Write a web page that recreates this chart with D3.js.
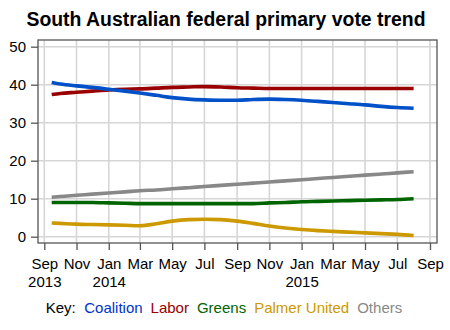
<!DOCTYPE html>
<html>
<head>
<meta charset="utf-8">
<script src="https://cdn.jsdelivr.net/npm/d3@7"></script>
<style>
  html, body { margin: 0; padding: 0; background: #fff; }
  svg { display: block; font-family: "Liberation Sans", Arial, sans-serif; }
</style>
</head>
<body>
<svg id="chart" width="450" height="330"></svg>
<script>
// Monthly poll-trend dates (first reading mid-September 2013)
const dates = [
  "2013-09-15","2013-10-01","2013-11-01","2013-12-01",
  "2014-01-01","2014-02-01","2014-03-01","2014-04-01","2014-05-01","2014-06-01",
  "2014-07-01","2014-08-01","2014-09-01","2014-10-01","2014-11-01","2014-12-01",
  "2015-01-01","2015-02-01","2015-03-01","2015-04-01","2015-05-01","2015-06-01",
  "2015-07-01","2015-08-01"
];

// Primary vote (%) by party
const coalition = [40.6,40.2,39.7,39.3,38.8,38.3,37.8,37.2,36.6,36.2,36.0,35.9,35.9,36.1,36.2,36.1,35.9,35.6,35.3,35.0,34.7,34.3,34.0,33.8];
const labor     = [37.4,37.7,38.0,38.3,38.6,38.8,38.9,39.1,39.3,39.4,39.5,39.4,39.2,39.1,39.0,39.0,39.0,39.0,39.0,39.0,39.0,39.0,39.0,39.0];
const greens    = [9.0,9.0,9.0,9.0,8.9,8.8,8.7,8.7,8.7,8.7,8.7,8.7,8.7,8.7,8.9,9.0,9.2,9.3,9.4,9.5,9.6,9.7,9.8,10.0];
const palmer    = [3.6,3.5,3.3,3.2,3.1,3.0,2.9,3.4,4.1,4.5,4.6,4.5,4.1,3.5,2.8,2.3,1.9,1.6,1.4,1.2,1.0,0.8,0.6,0.3];
const others    = [10.4,10.6,10.9,11.2,11.5,11.8,12.1,12.3,12.6,12.9,13.2,13.5,13.8,14.1,14.4,14.7,15.0,15.3,15.6,15.9,16.2,16.5,16.8,17.1];

const seriesNames  = ["Coalition","Labor","Greens","Palmer United","Others"];
const seriesColors = ["#0050c8","#990000","#006400","#cc9900","#888888"];
const seriesValues = [coalition, labor, greens, palmer, others];
// Draw order: grey underneath, major parties on top
const drawOrder = [4, 2, 3, 1, 0];

const yTicks = [0, 10, 20, 30, 40, 50];
const xTickDates = ["2013-09-01","2013-11-01","2014-01-01","2014-03-01","2014-05-01","2014-07-01",
                    "2014-09-01","2014-11-01","2015-01-01","2015-03-01","2015-05-01","2015-07-01","2015-09-01"];
const yearLabels = { "2013-09-01": "2013", "2014-01-01": "2014", "2015-01-01": "2015" };

const titleText = "South Australian federal primary vote trend";
const keyLabel = "Key:";

const parse = d3.utcParse("%Y-%m-%d");
const svg = d3.select("#chart");

const frame = { left: 38, right: 437, top: 40, bottom: 243 };

const x = d3.scaleUtc()
  .domain([parse("2013-09-01"), parse("2015-09-01")])
  .range([44.3, 430]);
const y = d3.scaleLinear().domain([0, 50]).range([236.7, 46.7]);

// Title
svg.append("text")
  .attr("x", 226).attr("y", 26)
  .attr("text-anchor", "middle")
  .attr("font-size", 19.4).attr("font-weight", "bold")
  .attr("fill", "#000")
  .text(titleText);

// Grid
const grid = svg.append("g");
grid.selectAll("line.v").data(xTickDates).join("line")
  .attr("x1", d => x(parse(d))).attr("x2", d => x(parse(d)))
  .attr("y1", frame.top).attr("y2", frame.bottom)
  .attr("stroke", "#d6d6d6").attr("stroke-width", 1.6);
grid.selectAll("line.h").data(yTicks).join("line")
  .attr("x1", frame.left).attr("x2", frame.right)
  .attr("y1", d => y(d)).attr("y2", d => y(d))
  .attr("stroke", "#d6d6d6").attr("stroke-width", 1.6);

// Series lines
const line = d3.line()
  .x((d, i) => x(parse(dates[i])))
  .y(d => y(d))
  .curve(d3.curveMonotoneX);

svg.append("g").selectAll("path").data(drawOrder).join("path")
  .attr("d", k => line(seriesValues[k]))
  .attr("fill", "none")
  .attr("stroke", k => seriesColors[k])
  .attr("stroke-width", 3.6)
  .attr("stroke-linecap", "butt");

// Frame
svg.append("rect")
  .attr("x", frame.left).attr("y", frame.top)
  .attr("width", frame.right - frame.left).attr("height", frame.bottom - frame.top)
  .attr("fill", "none").attr("stroke", "#555").attr("stroke-width", 1.3);

// Y axis
const yAxis = svg.append("g")
  .attr("transform", `translate(${frame.left},0)`)
  .call(d3.axisLeft(y).tickValues(yTicks).tickSize(7).tickPadding(5));
yAxis.select(".domain").remove();
yAxis.selectAll(".tick line").attr("stroke", "#555").attr("stroke-width", 1.3);
yAxis.selectAll(".tick text")
  .attr("font-size", 15).attr("fill", "#000")
  .attr("font-family", "Liberation Sans, Arial, sans-serif");

// X axis
const fmtMonth = d3.utcFormat("%b");
const xAxis = svg.append("g")
  .attr("transform", `translate(0,${frame.bottom})`)
  .call(d3.axisBottom(x).tickValues(xTickDates.map(parse)).tickSize(7).tickPadding(8).tickFormat(fmtMonth));
xAxis.select(".domain").remove();
xAxis.selectAll(".tick line").attr("stroke", "#555").attr("stroke-width", 1.3);
xAxis.selectAll(".tick text")
  .attr("font-size", 15).attr("fill", "#000")
  .attr("font-family", "Liberation Sans, Arial, sans-serif")
  .each(function(d) {
    const key = d3.utcFormat("%Y-%m-%d")(d);
    if (yearLabels[key]) {
      d3.select(this).append("tspan")
        .attr("x", 0).attr("dy", "1.2em")
        .text(yearLabels[key]);
    }
  });

// Key
const key = svg.append("g").attr("font-size", 15);
let kx = 45.7;
const keyY = 313;
const kt = key.append("text").attr("x", kx).attr("y", keyY).attr("fill", "#000").text(keyLabel);
kx += kt.node().getComputedTextLength() + 8.5;
seriesNames.forEach((name, i) => {
  const t = key.append("text").attr("x", kx).attr("y", keyY)
    .attr("fill", i === 0 ? "#0033cc" : seriesColors[i]).text(name);
  kx += t.node().getComputedTextLength() + 8;
});
</script>
</body>
</html>
